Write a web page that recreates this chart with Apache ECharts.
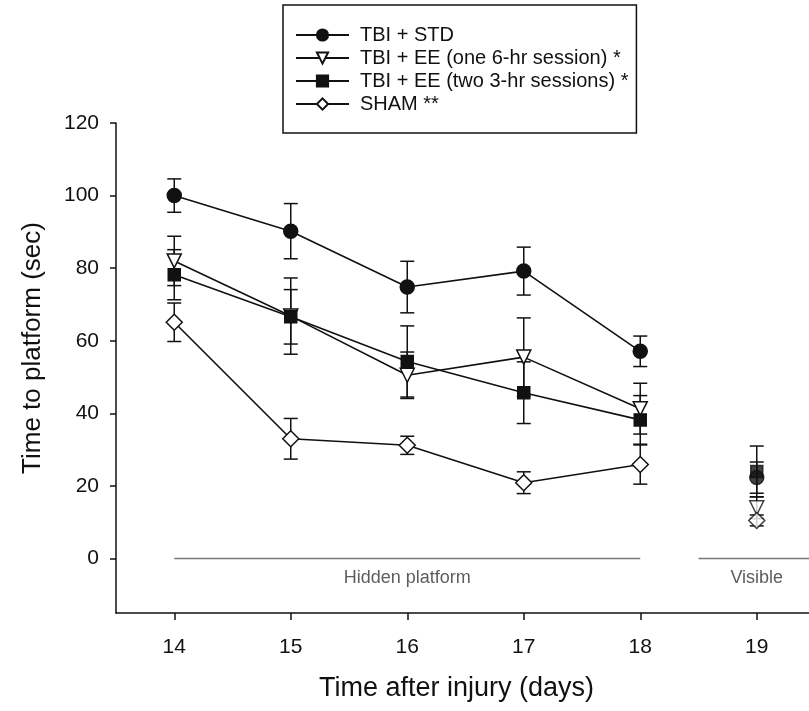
<!DOCTYPE html>
<html>
<head>
<meta charset="utf-8">
<script src="https://cdn.jsdelivr.net/npm/echarts@6/dist/echarts.min.js"></script>
<style>
html, body { margin: 0; padding: 0; background: #fff; }
#chart { width: 809px; height: 711px; }
</style>
</head>
<body>
<div id="chart"></div>
<script>
// days 14-18 = hidden platform (connected), day 19 = visible platform (separate)
const hiddenDays = [14, 15, 16, 17, 18]
const visibleDays = [19]
const xTicks = [14, 15, 16, 17, 18, 19]
const yTicks = [0, 20, 40, 60, 80, 100, 120]

const groupNames = [
  'TBI + STD',
  'TBI + EE (one 6-hr session) *',
  'TBI + EE (two 3-hr sessions) *',
  'SHAM **'
]

const stdMean = [100, 90.2, 74.8, 79.2, 57.1, 22.3]
const stdErr = [4.6, 7.6, 7.1, 6.6, 4.2, 4.3]
const ee6Mean = [82, 66.8, 50.5, 55.5, 41.3, 14]
const ee6Err = [6.8, 10.5, 6.4, 10.8, 7.0, 3.0]
const ee3Mean = [78.2, 66.6, 54.3, 45.7, 38.2, 24.0]
const ee3Err = [6.9, 7.5, 9.8, 8.5, 6.7, 7.0]
const shamMean = [65.1, 33.0, 31.2, 20.9, 25.9, 10.5]
const shamErr = [5.3, 5.6, 2.5, 3.0, 5.4, 1.5]

// phase bars drawn at y = 0
const phaseLabels = ['Hidden platform', 'Visible']
const phaseStart = [14, 18.5]
const phaseEnd = [18, 19.5]
const phaseLabelX = [16, 19]
const phaseLabelY = -5.5

const INK = '#111'
const FONT = "'Liberation Sans', Arial, sans-serif"

const groups = [
  { mean: stdMean, err: stdErr, symbol: 'circle', size: 14, fill: INK, rotate: 0 },
  { mean: ee6Mean, err: ee6Err, symbol: 'triangle', size: 14, fill: '#fff', rotate: 180 },
  { mean: ee3Mean, err: ee3Err, symbol: 'rect', size: 12, fill: INK, rotate: 0 },
  { mean: shamMean, err: shamErr, symbol: 'diamond', size: 16, fill: '#fff', rotate: 0 }
]

const renderErr = (params, api) => {
  const x = api.value(0)
  const top = api.coord([x, api.value(2)])
  const bot = api.coord([x, api.value(1)])
  const cap = 7
  const style = { stroke: INK, lineWidth: 1.5 }
  return {
    type: 'group',
    children: [
      { type: 'line', shape: { x1: top[0], y1: top[1], x2: bot[0], y2: bot[1] }, style },
      { type: 'line', shape: { x1: top[0] - cap, y1: top[1], x2: top[0] + cap, y2: top[1] }, style },
      { type: 'line', shape: { x1: bot[0] - cap, y1: bot[1], x2: bot[0] + cap, y2: bot[1] }, style }
    ]
  }
}

const series = []

groups.forEach((g, gi) => {
  const days = hiddenDays.concat(visibleDays)
  series.push({
    name: 'err' + gi,
    type: 'custom',
    renderItem: renderErr,
    encode: { x: 0, y: [1, 2] },
    data: days.map((d, i) => [d, g.mean[i] - g.err[i], g.mean[i] + g.err[i]]),
    z: 2,
    silent: true
  })
  const common = {
    name: groupNames[gi],
    symbol: g.symbol,
    symbolSize: g.size,
    symbolRotate: g.rotate,
    itemStyle: { color: g.fill, borderColor: INK, borderWidth: 1.5 },
    z: 5
  }
  series.push(Object.assign({}, common, {
    type: 'line',
    showAllSymbol: true,
    lineStyle: { color: INK, width: 1.6 },
    data: hiddenDays.map((d, i) => [d, g.mean[i]])
  }))
  series.push(Object.assign({}, common, {
    type: 'scatter',
    data: visibleDays.map((d, i) => [d, g.mean[hiddenDays.length + i]])
  }))
})

phaseLabels.forEach((lab, i) => {
  series.push({
    name: 'phase' + i,
    type: 'line',
    symbol: 'none',
    silent: true,
    lineStyle: { color: '#777', width: 1.5 },
    data: [[phaseStart[i], 0], [phaseEnd[i], 0]],
    z: 1
  })
  series.push({
    name: 'phaseLabel' + i,
    type: 'scatter',
    symbolSize: 0,
    silent: true,
    label: {
      show: true,
      position: 'inside',
      formatter: '{b}',
      color: '#333',
      fontSize: 18,
      fontFamily: FONT
    },
    data: [{ name: lab, value: [phaseLabelX[i], phaseLabelY] }]
  })
})

const chart = echarts.init(document.getElementById('chart'))
chart.setOption({
  animation: false,
  backgroundColor: '#fff',
  textStyle: { fontFamily: FONT },
  grid: { left: 116, right: -6, top: 123, bottom: 98, outerBoundsMode: 'none' },
  legend: {
    data: groupNames,
    orient: 'vertical',
    left: 283,
    top: 5,
    padding: [20, 8, 19, 12],
    itemWidth: 53,
    itemHeight: 14,
    itemGap: 3,
    borderColor: INK,
    borderWidth: 1.5,
    backgroundColor: '#fff',
    textStyle: { fontSize: 20, color: INK, fontFamily: FONT, padding: [0, 0, 0, 6] }
  },
  xAxis: {
    type: 'value',
    min: 13.5,
    max: 19.5,
    name: 'Time after injury (days)',
    nameLocation: 'middle',
    nameGap: 62,
    nameTextStyle: { fontSize: 27, color: INK, fontFamily: FONT, padding: [0, 18, 0, 0] },
    axisLine: { onZero: false, lineStyle: { color: INK, width: 1.5 } },
    axisTick: { customValues: xTicks, length: 7, lineStyle: { color: INK, width: 1.5 } },
    axisLabel: { customValues: xTicks, margin: 24, fontSize: 21, color: INK, fontFamily: FONT },
    splitLine: { show: false }
  },
  yAxis: {
    type: 'value',
    min: -15,
    max: 120,
    name: 'Time to platform (sec)',
    nameLocation: 'middle',
    nameGap: 70,
    nameTextStyle: { fontSize: 26, color: INK, fontFamily: FONT, padding: [0, 0, 0, 40] },
    axisLine: { show: true, onZero: false, lineStyle: { color: INK, width: 1.5 } },
    axisTick: { show: true, customValues: yTicks, length: 6, lineStyle: { color: INK, width: 1.5 } },
    axisLabel: { customValues: yTicks, margin: 17, fontSize: 21, color: INK, fontFamily: FONT },
    splitLine: { show: false }
  },
  series: series
})
</script>
</body>
</html>
